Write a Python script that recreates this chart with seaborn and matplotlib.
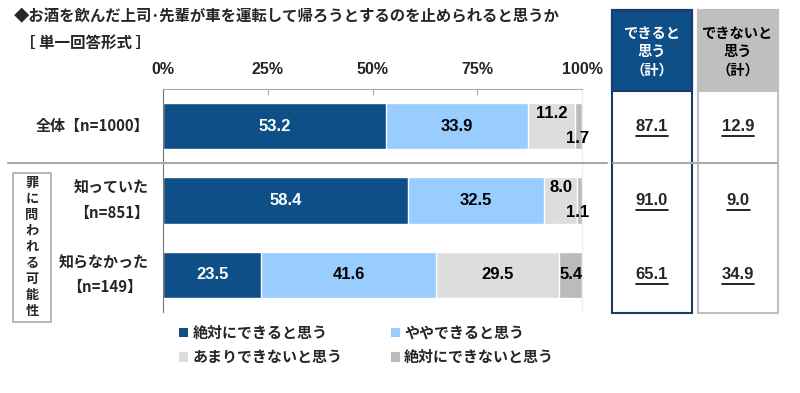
import numpy as np
import pandas as pd
import matplotlib
matplotlib.use("Agg")
import matplotlib.pyplot as plt
import matplotlib.transforms as mtransforms
from matplotlib.patches import Rectangle, Patch
from matplotlib.lines import Line2D
import seaborn as sns

# data
groups = ["全体【n=1000】", "知っていた\n【n=851】", "知らなかった\n【n=149】"]
answers = ["絶対にできると思う", "ややできると思う", "あまりできないと思う", "絶対にできないと思う"]
very_yes = [53.2, 58.4, 23.5]
some_yes = [33.9, 32.5, 41.6]
some_no = [11.2, 8.0, 29.5]
very_no = [1.7, 1.1, 5.4]
total_yes = [87.1, 91.0, 65.1]
total_no = [12.9, 9.0, 34.9]
xticks = [0, 25, 50, 75, 100]
xtick_labels = ["0%", "25%", "50%", "75%", "100%"]

colors = ["#0E4F88", "#99CCFF", "#DDDDDD", "#BBBBBB"]

sns.set_style("white")
plt.rcParams["font.family"] = ["Noto Sans CJK JP", "DejaVu Sans"]
plt.rcParams["font.weight"] = "bold"
NUM_FONT = ["Liberation Sans", "Noto Sans CJK JP"]

W, H = 800, 393
fig = plt.figure(figsize=(W / 100, H / 100), dpi=100)


def fx(px):
    return px / W


def fy(py):
    return 1 - py / H


ax = fig.add_axes([fx(163), fy(312), fx(582) - fx(163), fy(89) - fy(312)])

vals = np.array([very_yes, some_yes, some_no, very_no])  # (4, 3)
cum = np.cumsum(vals, axis=0)
starts = cum - vals

# stacked bars: draw cumulative totals back to front
for i in reversed(range(len(answers))):
    df = pd.DataFrame({"group": groups, "value": cum[i]})
    sns.barplot(data=df, x="value", y="group", orient="h", color=colors[i],
                saturation=1, width=0.62, errorbar=None, ax=ax)

ax.set_xlim(0, 100)
ax.set_ylim(2.5, -0.5)
ax.set_xlabel("")
ax.set_ylabel("")
ax.xaxis.tick_top()
ax.set_xticks(xticks)
ax.set_xticklabels(xtick_labels, fontsize=11.5, fontweight="bold", family=NUM_FONT)
ax.tick_params(axis="x", direction="in", length=4, color="#AAAAAA", pad=9)
ax.set_yticks([-0.5, 0.5, 1.5, 2.5])
ax.set_yticklabels([])
ax.tick_params(axis="y", direction="in", length=4, color="#777777")
ax.spines["bottom"].set_visible(False)
ax.spines["right"].set_color("#EEEEEE")
ax.spines["top"].set_color("#AAAAAA")
ax.spines["left"].set_color("#777777")

# segment labels
for r in range(len(groups)):
    small_tail = vals[3, r] < 3
    for i in range(len(answers)):
        v = vals[i, r]
        xc = starts[i, r] + v / 2
        yc = r
        if small_tail and i == 2:
            yc = r - 0.17
        if small_tail and i == 3:
            xc, yc = 99.0, r + 0.16
        ax.text(xc, yc, f"{v:.1f}", ha="center", va="center", fontsize=12,
                fontweight="bold", family=NUM_FONT,
                color="white" if i == 0 else "black", zorder=5)

# row labels
for r, g in enumerate(groups):
    ax.text(-0.033, r, g, transform=mtransforms.blended_transform_factory(ax.transAxes, ax.transData),
            ha="right", va="center", multialignment="center", fontsize=10.8,
            fontweight="bold", linespacing=1.7)

# title
fig.text(fx(14), fy(16), "◆お酒を飲んだ上司･先輩が車を運転して帰ろうとするのを止められると思うか",
         fontsize=11.1, fontweight="bold", va="center", ha="left")
fig.text(fx(20), fy(43), "［ 単一回答形式 ］", fontsize=11.2, fontweight="bold", va="center", ha="left")

# separator line under 全体
fig.add_artist(Line2D([fx(8), fx(607)], [fy(163), fy(163)], color="#AAAAAA", lw=1.5))
fig.add_artist(Line2D([fx(613), fx(777)], [fy(163), fy(163)], color="#AAAAAA", lw=1.5))

# vertical group label
fig.add_artist(Rectangle((fx(13), fy(322)), fx(51) - fx(13), fy(173) - fy(322),
                         transform=fig.transFigure, fill=False, edgecolor="#AAAAAA", lw=1.2))
fig.text(fx(32), fy(247), "\n".join("罪に問われる可能性"), ha="center", va="center",
         fontsize=9.5, fontweight="bold", linespacing=1.18)

# right summary columns
boxes = [(612, 692, "#0E4F88", "#1A3A6E", "white", "できると\n思う\n（計）", total_yes),
         (698, 778, "#BFBFBF", "#BFBFBF", "black", "できないと\n思う\n（計）", total_no)]
bt = mtransforms.blended_transform_factory(fig.transFigure, ax.transData)
fig.canvas.draw()
renderer = fig.canvas.get_renderer()
for x0, x1, fill, edge, tcolor, head, col in boxes:
    fig.add_artist(Rectangle((fx(x0), fy(91)), fx(x1) - fx(x0), fy(10) - fy(91),
                             transform=fig.transFigure, facecolor=fill, edgecolor=edge, lw=1.5))
    fig.add_artist(Rectangle((fx(x0), fy(313)), fx(x1) - fx(x0), fy(10) - fy(313),
                             transform=fig.transFigure, fill=False, edgecolor=edge, lw=1.5))
    xc = fx((x0 + x1) / 2)
    fig.text(xc, fy(52), head, ha="center", va="center", color=tcolor, fontsize=10.3,
             fontweight="bold", linespacing=1.4)
    for r, v in enumerate(col):
        t = fig.text(xc, r, f"{v:.1f}", transform=bt, ha="center", va="center",
                     fontsize=12, fontweight="bold", family=NUM_FONT)
        bb = t.get_window_extent(renderer)
        yline = bb.y0 - 2
        fig.add_artist(Line2D([bb.x0 / W, bb.x1 / W], [yline / H, yline / H],
                              color="black", lw=1.2))

# legend
handles = [Patch(facecolor=c, edgecolor="none") for c in colors]
order = [0, 2, 1, 3]
fig.legend([handles[i] for i in order], [answers[i] for i in order], ncol=2,
           loc="upper left", bbox_to_anchor=(fx(179), fy(325)), frameon=False,
           prop={"size": 10.8, "weight": "bold"}, handlelength=0.6, handleheight=0.6,
           handletextpad=0.3, columnspacing=3.2, labelspacing=0.55, borderpad=0,
           borderaxespad=0)

fig.savefig("out.png", dpi=100)
